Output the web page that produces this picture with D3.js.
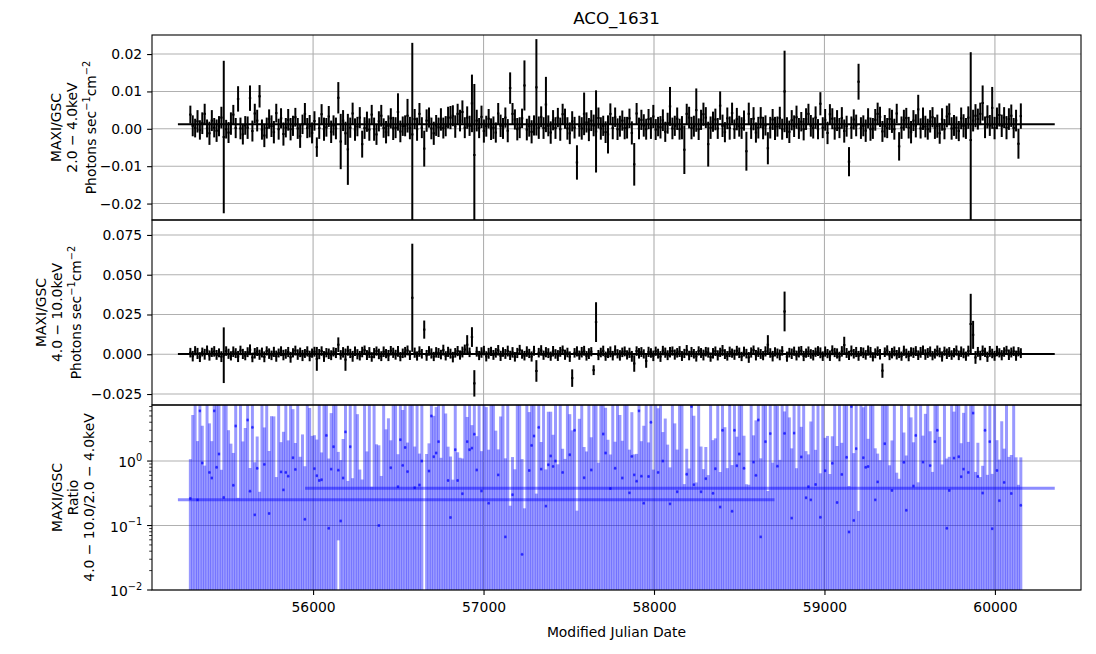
<!DOCTYPE html>
<html>
<head>
<meta charset="utf-8">
<script src="https://cdn.jsdelivr.net/npm/d3@7"></script>
<style>
  body { margin: 0; background: #fff; }
  svg { font-family: "DejaVu Sans", sans-serif; }
</style>
</head>
<body>
<svg id="chart" width="1096" height="654"></svg>
<script>
// light curve binning (bin centre of first bin, bin width in days)
const binStart = 55280;
const binWidth = 14;

// 2.0-4.0 keV rate and error, in 1e-4 photons/s/cm2
const softRate = [
  38, 8, 2, 20, -3, 15, 40, 1, -12, 22,
  3, -5, 7, 30, -22, -1, -10, 14, 38, 2,
  80, 1, -15, 9, 3, 82, -6, 41, 22, 87,
  -2, -18, 2, 26, 7, -9, 42, -1, 28, -14,
  3, 24, -1, 8, 31, 1, -20, 12, 40, 2,
  7, -11, 21, -49, 2, 39, -1, 4, 33, -8,
  9, 1, 83, -34, 22, -12, -55, 3, 41, -2,
  6, 30, -41, 2, 19, -2, 38, -1, -15, 20,
  35, 2, -9, 8, 28, 1, 3, 45, -7, 7,
  8, 35, 2, -15, 26, -1, 40, 3, -53, 22,
  30, 1, -12, 9, 4, 25, 2, 7, 30, 30,
  35, 6, 40, 22, 45, 3, 30, 8, 68, -70,
  22, 2, 32, -6, 7, 27, -1, 3, -10, 41,
  8, 1, 30, -5, 109, 40, 25, -1, 3, 28,
  116, -2, 7, -8, 9, 111, 3, 32, 2, 65,
  8, -10, 23, 2, 30, -1, 39, 27, 1, -12,
  20, 3, -90, 7, 1, 40, 17, -2, 22, 9,
  -7, 29, 1, 8, -9, -15, 40, 2, 31, -1,
  7, 22, 2, 3, 28, -11, -95, 41, 1, 24,
  9, -1, 26, 2, 33, -2, 6, 4, 23, -8,
  15, 60, 1, 8, 27, -1, 3, -56, 40, 30,
  2, 7, 50, -1, 24, 39, 30, -41, 3, 19,
  25, 1, 62, 8, -9, 28, 2, 42, -1, 26,
  7, 2, 22, -60, 40, 1, 27, -10, 3, 30,
  2, 9, -52, 3, 25, 1, 6, 29, -1, 100,
  3, -8, 23, 7, 31, 1, 19, -1, 26, 40,
  8, 2, 30, -1, 67, 3, 24, -11, 39, 27,
  1, 22, 2, 29, -6, 7, -88, 3, 25, 9,
  126, 2, 8, -5, 28, -1, 1, 24, 40, 32,
  -7, 7, 2, 26, 20, -1, 41, -47, 3, 23,
  29, 3, -9, 22, 8, 52, 1, 27, 6, -1,
  20, 31, 2, 7, -12, 25, -1, 33, 40, 1,
  9, 3, -6, 28, 8, 1, 30, -30, 22, 35,
  26, 40, 69, 4, 32, 9, 56, 2, 28, 37,
  8, 30, 3, 26, 35, 2, 22, -40, 34
];
const softErr = [
  24, 28, 25, 30, 26, 29, 27, 24, 31, 28,
  26, 30, 27, 29, 204, 25, 28, 30, 26, 27,
  34, 29, 27, 25, 30, 34, 28, 26, 29, 30,
  27, 31, 28, 26, 29, 30, 25, 28, 27, 31,
  26, 29, 30, 27, 25, 28, 31, 26, 29, 27,
  30, 28, 26, 26, 29, 27, 31, 25, 28, 30,
  27, 29, 42, 74, 28, 31, 95, 27, 29, 30,
  26, 28, 36, 29, 27, 30, 26, 31, 28, 27,
  29, 26, 30, 28, 27, 31, 28, 50, 29, 26,
  28, 45, 30, 245, 27, 31, 29, 28, 48, 30,
  27, 29, 31, 28, 26, 30, 28, 27, 29, 31,
  28, 30, 27, 29, 31, 28, 30, 27, 77, 190,
  29, 27, 30, 31, 28, 26, 29, 30, 27, 28,
  30, 28, 27, 31, 42, 29, 27, 30, 28, 26,
  67, 29, 28, 31, 27, 129, 30, 28, 29, 74,
  28, 30, 27, 29, 26, 31, 28, 27, 30, 29,
  27, 29, 46, 28, 30, 57, 27, 31, 28, 29,
  110, 28, 30, 27, 29, 51, 28, 30, 26, 29,
  28, 27, 30, 29, 26, 31, 57, 28, 29, 27,
  30, 28, 27, 29, 31, 28, 26, 30, 29, 27,
  28, 52, 29, 27, 30, 28, 31, 65, 27, 29,
  30, 28, 58, 29, 27, 31, 28, 60, 30, 27,
  29, 28, 38, 30, 27, 29, 31, 28, 26, 30,
  28, 29, 27, 52, 30, 28, 31, 27, 29, 28,
  30, 27, 43, 29, 28, 31, 27, 30, 28, 109,
  28, 30, 27, 29, 31, 28, 26, 30, 29, 27,
  29, 28, 30, 27, 31, 28, 29, 30, 27, 28,
  30, 28, 27, 29, 31, 28, 39, 30, 27, 29,
  48, 29, 28, 30, 27, 31, 28, 29, 30, 27,
  28, 30, 27, 29, 31, 28, 26, 38, 30, 28,
  27, 29, 30, 28, 31, 39, 27, 30, 29, 28,
  30, 27, 29, 31, 28, 30, 27, 29, 28, 30,
  28, 30, 27, 29, 31, 28, 30, 235, 29, 31,
  28, 30, 47, 29, 31, 28, 56, 30, 29, 31,
  30, 28, 31, 29, 30, 27, 29, 40, 34
];

// 4.0-10.0 keV rate and error, in 1e-4 photons/s/cm2
const hardRate = [
  10, -12, 22, 5, -18, 14, 0, 25, -8, 12,
  18, -4, 9, -15, -6, 20, 3, -10, 16, 7,
  -14, 24, 2, -9, 13, 28, -20, 6, 17, -3,
  11, -16, 21, 4, -7, 15, -12, 8, 19, -5,
  2, 14, -19, 9, 23, -2, 12, -8, 5, 18,
  -11, 7, 16, -29, 1, 20, -14, 10, 3, -6,
  15, 8, 60, -4, 12, -34, 22, 5, -13, 19,
  0, -9, 14, 26, -5, 11, -17, 7, 20, 2,
  -12, 16, 4, -8, 22, 9, -3, 18, -15, 6,
  13, 24, -6, 355, 10, -11, 17, 3, 155, -7,
  21, 5, -14, 12, 8, -2, 26, -10, 15, 4,
  -18, 9, 20, -5, 14, 30, 60, 12, 108, -183,
  16, -8, 11, 23, -13, 6, 18, -4, 9, 25,
  -10, 14, 2, 20, -7, 12, -16, 8, 28, 1,
  -9, 17, 5, -14, 22, -105, 10, 24, -6, 13,
  7, -12, 19, 2, -8, 15, 26, -3, 11, -15,
  -150, 9, 18, -6, 13, 22, -10, 4, 16, -100,
  202, -5, 11, 21, -12, 7, 15, -9, 24, 3,
  -7, 12, 18, -4, 9, -13, -58, 20, 6, 14,
  2, -42, 15, 8, -10, 19, 4, -14, 23, 10,
  -6, 13, 20, -2, 9, 17, -11, 5, 25, -8,
  14, 3, -13, 21, 8, -5, 16, 11, -18, 6,
  19, -7, 12, 24, 1, -10, 15, 7, -3, 22,
  9, -14, 17, 4, -20, 11, 26, -6, 13, 2,
  -9, 18, 60, 8, -12, 15, 5, -4, 21, 269,
  -15, 10, 3, 19, -8, 14, 22, -11, 7, 16,
  2, -6, 13, 20, 9, -12, 17, 4, -9, 25,
  11, 5, -14, 18, 58, 8, -7, 21, 3, 14,
  -10, 16, 9, -4, 23, 12, -16, 6, 19, 0,
  -103, 13, 24, -8, 7, 18, -3, 10, -12, 22,
  5, -11, 15, 9, 20, -6, 12, 26, -2, 8,
  17, -9, 4, 21, 11, -14, 19, 3, 14, -5,
  10, 23, -7, 16, 6, -12, 20, 190, 122, -20,
  15, -8, 22, 12, -16, 18, 5, -10, 20, 9,
  -6, 14, 24, -3, 11, 19, -9, 16, 7
];
const hardErr = [
  30, 33, 29, 35, 31, 28, 34, 30, 32, 29,
  33, 31, 28, 34, 175, 30, 32, 29, 33, 31,
  35, 30, 32, 29, 31, 34, 30, 33, 28, 32,
  31, 34, 29, 33, 30, 32, 35, 28, 31, 33,
  30, 32, 34, 29, 31, 33, 30, 35, 28, 32,
  33, 29, 31, 75, 32, 30, 34, 29, 33, 31,
  29, 32, 46, 30, 33, 70, 31, 29, 34, 30,
  32, 30, 33, 29, 31, 34, 30, 32, 29, 33,
  31, 33, 29, 35, 30, 32, 31, 34, 29, 30,
  33, 31, 30, 340, 32, 29, 33, 30, 57, 34,
  30, 32, 29, 33, 31, 30, 34, 29, 32, 31,
  33, 30, 32, 29, 34, 31, 60, 30, 62, 83,
  31, 29, 33, 30, 32, 34, 29, 31, 30, 33,
  32, 30, 31, 34, 29, 33, 30, 32, 31, 29,
  30, 33, 29, 32, 31, 68, 30, 33, 29, 32,
  31, 29, 33, 30, 34, 31, 29, 32, 30, 33,
  55, 30, 32, 29, 33, 31, 30, 34, 29, 31,
  125, 32, 30, 33, 29, 31, 34, 30, 32, 29,
  33, 30, 31, 29, 32, 34, 52, 30, 33, 31,
  29, 43, 32, 30, 33, 29, 31, 34, 30, 32,
  31, 33, 29, 32, 30, 34, 31, 29, 33, 30,
  32, 30, 33, 29, 31, 34, 30, 32, 29, 33,
  30, 32, 29, 34, 31, 30, 33, 29, 32, 31,
  33, 29, 31, 30, 34, 32, 29, 33, 30, 31,
  29, 32, 60, 30, 33, 29, 31, 34, 30, 125,
  32, 30, 33, 29, 31, 34, 30, 32, 29, 33,
  30, 33, 29, 31, 34, 30, 32, 29, 33, 31,
  29, 32, 30, 33, 52, 31, 29, 34, 30, 32,
  31, 29, 33, 30, 32, 34, 29, 31, 30, 33,
  45, 30, 32, 29, 33, 31, 30, 34, 29, 32,
  30, 33, 29, 32, 31, 30, 34, 29, 33, 31,
  32, 29, 31, 34, 30, 32, 29, 33, 31, 30,
  29, 32, 30, 33, 31, 29, 34, 190, 88, 40,
  31, 30, 33, 29, 32, 34, 30, 31, 33, 29,
  32, 30, 29, 33, 31, 30, 32, 29, 31
];

// whole-period averages drawn as long horizontal bars
const meanStart = [55207, 55207];     // soft, hard
const meanEnd = [60351, 60351];
const meanRate = [0.00125, 0.0002];
const ratioMeanStart = [55207, 55953];
const ratioMeanEnd = [58707, 60351];
const ratioMeanValue = [0.25, 0.38];

const xTicks = [56000, 57000, 58000, 59000, 60000];
const softTicks = [-0.02, -0.01, 0, 0.01, 0.02];
const hardTicks = [-0.025, 0, 0.025, 0.05, 0.075];
const ratioTicks = [0.01, 0.1, 1];
const ratioTickExp = ["−2", "−1", "0"];

const unit = 1e-4;

const svg = d3.select("#chart");
const L = 152, R = 1081;
const panelTop = [35, 220, 405];
const panelBottom = [220, 405, 590];
const fs = 13.9;

const x = d3.scaleLinear().domain([55055, 60505]).range([L, R]);
const ySoft = d3.scaleLinear().domain([-0.0244, 0.0251]).range([panelBottom[0], panelTop[0]]);
const yHard = d3.scaleLinear().domain([-0.0319, 0.0844]).range([panelBottom[1], panelTop[1]]);
const yRatio = d3.scaleLog().domain([0.01, 7.4]).range([panelBottom[2], panelTop[2]]);

svg.append("rect").attr("width", 1096).attr("height", 654).attr("fill", "#fff");

const defs = svg.append("defs");
panelTop.forEach((t, k) => {
  defs.append("clipPath").attr("id", "clip" + k)
    .append("rect").attr("x", L).attr("y", t).attr("width", R - L).attr("height", panelBottom[k] - t);
});

// bins
const bins = softRate.map((s, i) => {
  const t = binStart + binWidth * i;
  const sv = s * unit, se = softErr[i] * unit;
  const hv = hardRate[i] * unit, he = hardErr[i] * unit;
  const r = hv / sv;
  const re = Math.sqrt(Math.pow(he / sv, 2) + Math.pow(hv * se / (sv * sv), 2));
  return { t, sv, se, hv, he, r, re };
});

// grid
function grid(k, yScale, ticks) {
  const g = svg.append("g").attr("stroke", "#b0b0b0").attr("stroke-width", 1.1);
  g.selectAll(".gx").data(xTicks).enter().append("line")
    .attr("x1", d => x(d)).attr("x2", d => x(d))
    .attr("y1", panelTop[k]).attr("y2", panelBottom[k]);
  g.selectAll(".gy").data(ticks).enter().append("line")
    .attr("x1", L).attr("x2", R)
    .attr("y1", d => yScale(d)).attr("y2", d => yScale(d));
}
grid(0, ySoft, softTicks);
grid(1, yHard, hardTicks);
grid(2, yRatio, ratioTicks);

// flux panels
function fluxPanel(k, yScale, val, err, mean) {
  const g = svg.append("g").attr("clip-path", "url(#clip" + k + ")")
    .attr("stroke", "#000").attr("stroke-width", 2);
  g.selectAll(".ey").data(bins).enter().append("line")
    .attr("x1", d => x(d.t)).attr("x2", d => x(d.t))
    .attr("y1", d => yScale(d[val] - d[err])).attr("y2", d => yScale(d[val] + d[err]));
  g.selectAll(".ex").data(bins).enter().append("line")
    .attr("x1", d => x(d.t - binWidth / 2)).attr("x2", d => x(d.t + binWidth / 2))
    .attr("y1", d => yScale(d[val])).attr("y2", d => yScale(d[val]));
  g.append("line")
    .attr("x1", x(meanStart[mean])).attr("x2", x(meanEnd[mean]))
    .attr("y1", yScale(meanRate[mean])).attr("y2", yScale(meanRate[mean]));
}
fluxPanel(0, ySoft, "sv", "se", 0);
fluxPanel(1, yHard, "hv", "he", 1);

// ratio panel
const rg = svg.append("g").attr("clip-path", "url(#clip2)");
const yBelow = panelBottom[2] + 20;
const ratioBars = bins.filter(d => isFinite(d.r) && isFinite(d.re) && d.r + d.re > 0);
rg.selectAll(".rb").data(ratioBars).enter().append("line")
  .attr("x1", d => x(d.t)).attr("x2", d => x(d.t))
  .attr("y1", d => d.r - d.re > 0 ? yRatio(d.r - d.re) : yBelow)
  .attr("y2", d => Math.max(panelTop[2] - 20, yRatio(d.r + d.re)))
  .attr("stroke", "#0000ff").attr("stroke-opacity", 0.4).attr("stroke-width", 3);
const ratioPts = bins.filter(d => isFinite(d.r) && d.r > 0);
rg.selectAll(".rx").data(ratioPts).enter().append("line")
  .attr("x1", d => x(d.t - binWidth / 2)).attr("x2", d => x(d.t + binWidth / 2))
  .attr("y1", d => yRatio(d.r)).attr("y2", d => yRatio(d.r))
  .attr("stroke", "#0000ff").attr("stroke-opacity", 0.4).attr("stroke-width", 3);
rg.selectAll(".rp").data(ratioPts).enter().append("circle")
  .attr("cx", d => x(d.t)).attr("cy", d => yRatio(d.r)).attr("r", 1.2)
  .attr("fill", "#0000ff").attr("fill-opacity", 0.55);
rg.selectAll(".rm").data(ratioMeanValue).enter().append("line")
  .attr("x1", (d, i) => x(ratioMeanStart[i])).attr("x2", (d, i) => x(ratioMeanEnd[i]))
  .attr("y1", d => yRatio(d)).attr("y2", d => yRatio(d))
  .attr("stroke", "#0000ff").attr("stroke-opacity", 0.45).attr("stroke-width", 3);

// frames
panelTop.forEach((t, k) => {
  svg.append("rect").attr("x", L).attr("y", t).attr("width", R - L).attr("height", panelBottom[k] - t)
    .attr("fill", "none").attr("stroke", "#000").attr("stroke-width", 1.1);
});

// axes
function styleAxis(g) {
  g.select(".domain").remove();
  g.selectAll(".tick line").attr("stroke", "#000").attr("stroke-width", 1.1);
  g.selectAll(".tick text").attr("fill", "#000").attr("font-size", fs)
    .attr("font-family", "DejaVu Sans, sans-serif");
}
svg.append("g").attr("transform", `translate(${L},0)`)
  .call(d3.axisLeft(ySoft).tickValues(softTicks).tickFormat(d3.format(".2f")).tickSize(4.9).tickPadding(4.9))
  .call(styleAxis);
svg.append("g").attr("transform", `translate(${L},0)`)
  .call(d3.axisLeft(yHard).tickValues(hardTicks).tickFormat(d3.format(".3f")).tickSize(4.9).tickPadding(4.9))
  .call(styleAxis);
svg.append("g").attr("transform", `translate(0,${panelBottom[2]})`)
  .call(d3.axisBottom(x).tickValues(xTicks).tickFormat(d3.format("d")).tickSize(4.9).tickPadding(7.5))
  .call(styleAxis);

// log axis: minor ticks, major ticks and labels
const minor = yRatio.ticks().filter(v => ratioTicks.indexOf(v) < 0);
svg.append("g").selectAll("line").data(minor).enter().append("line")
  .attr("x1", L - 2.8).attr("x2", L).attr("y1", d => yRatio(d)).attr("y2", d => yRatio(d))
  .attr("stroke", "#000").attr("stroke-width", 0.8);
const lg = svg.append("g");
lg.selectAll("line").data(ratioTicks).enter().append("line")
  .attr("x1", L - 4.9).attr("x2", L).attr("y1", d => yRatio(d)).attr("y2", d => yRatio(d))
  .attr("stroke", "#000").attr("stroke-width", 1.1);
ratioTicks.forEach((v, i) => {
  const t = lg.append("text").attr("x", L - 9.8).attr("y", yRatio(v) + 6)
    .attr("text-anchor", "end").attr("font-size", fs);
  t.append("tspan").text("10");
  t.append("tspan").attr("dy", -6.5).attr("font-size", 9.8).text(ratioTickExp[i]);
});

// y labels (three lines, rotated); {s: "..."} marks a superscript
function ylabel(k, xs, lines) {
  const cy = (panelTop[k] + panelBottom[k]) / 2;
  lines.forEach((parts, j) => {
    const t = svg.append("text")
      .attr("transform", `translate(${xs[j]},${cy}) rotate(-90)`)
      .attr("text-anchor", "middle").attr("dominant-baseline", "central")
      .attr("font-size", fs);
    let raised = false;
    parts.forEach(p => {
      if (typeof p === "string") {
        t.append("tspan").attr("dy", raised ? 5.5 : 0).text(p);
        raised = false;
      } else {
        t.append("tspan").attr("dy", -5.5).attr("font-size", 9.8).text(p.s);
        raised = true;
      }
    });
  });
}
const photons = ["Photons sec", { s: "−1" }, "cm", { s: "−2" }];
ylabel(0, [56, 72, 91], [["MAXI/GSC"], ["2.0 − 4.0keV"], photons]);
ylabel(1, [41, 57, 76], [["MAXI/GSC"], ["4.0 − 10.0keV"], photons]);
ylabel(2, [57, 73, 89], [["MAXI/GSC"], ["Ratio"], ["4.0 − 10.0/2.0 − 4.0keV"]]);

svg.append("text").attr("x", (L + R) / 2).attr("y", 24).attr("text-anchor", "middle")
  .attr("font-size", 16.7).text("ACO_1631");
svg.append("text").attr("x", (L + R) / 2).attr("y", 637).attr("text-anchor", "middle")
  .attr("font-size", fs).text("Modified Julian Date");
</script>
</body>
</html>
